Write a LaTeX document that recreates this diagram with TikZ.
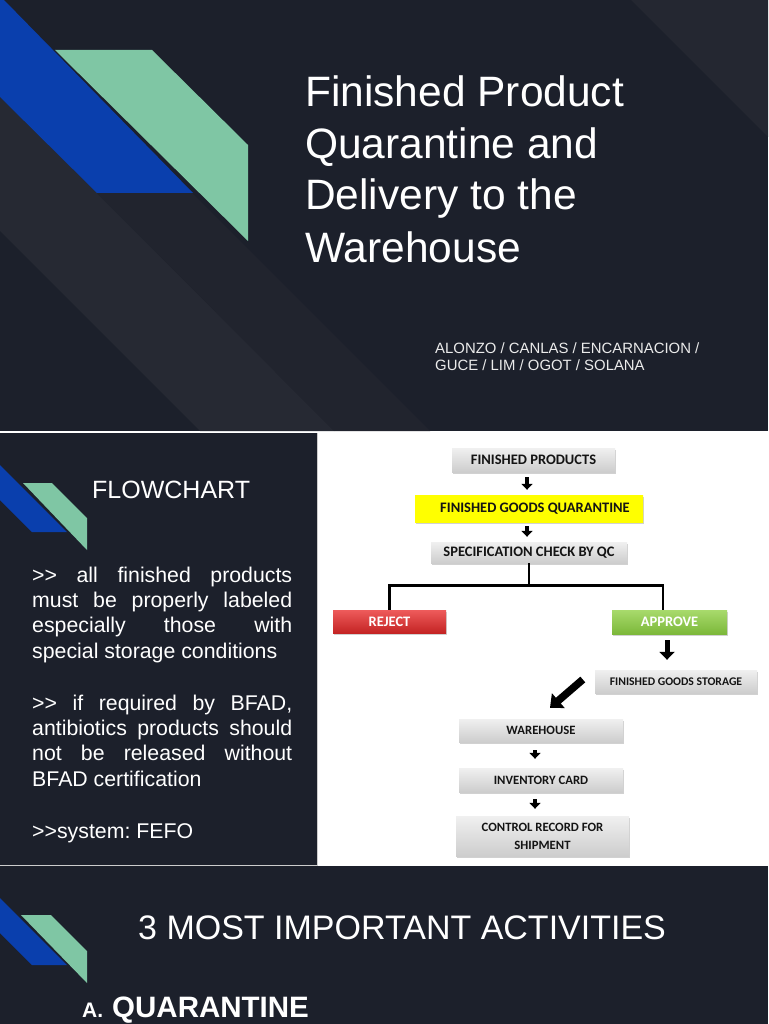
\documentclass[tikz,border=0pt]{standalone}
\usepackage{fontspec}
\setmainfont{Liberation Sans}
\newfontfamily\fcfont{Carlito}
\usetikzlibrary{arrows.meta,shadows}
\definecolor{bg}{HTML}{1C202B}
\definecolor{bandA}{HTML}{262933}
\definecolor{bandB}{HTML}{21242E}
\definecolor{bandC}{HTML}{242731}
\definecolor{decoblue}{HTML}{0A3FAD}
\definecolor{decogreen}{HTML}{7FC6A4}
\definecolor{boxtop}{HTML}{F0F0F0}
\definecolor{boxbot}{HTML}{CDCDCD}
\definecolor{redtop}{HTML}{EE5B5B}
\definecolor{redbot}{HTML}{C42424}
\definecolor{grntop}{HTML}{A8DA6C}
\definecolor{grnbot}{HTML}{7CB83A}
\definecolor{boxtext}{HTML}{141414}
\tikzset{
  txt/.style={inner sep=0pt, text=white},
  fbox/.style={rectangle, inner sep=0pt, top color=boxtop, bottom color=boxbot,
    drop shadow={shadow xshift=0.8pt, shadow yshift=-1.8pt, fill=black, opacity=0.18},
    text=boxtext, font=\fcfont\bfseries\fontsize{14.5}{17}\selectfont},
  ybox/.style={fbox, top color=yellow, bottom color=yellow},
  rbox/.style={fbox, top color=redtop, bottom color=redbot, text=white},
  gbox/.style={fbox, top color=grntop, bottom color=grnbot, text=white},
  sarrow/.style={line width=4.5pt, -{Triangle[width=11pt,length=6pt]}},
  barrow/.style={line width=5pt, -{Triangle[width=15pt,length=8pt]}},
  darrow/.style={line width=7.5pt, -{Triangle[width=19pt,length=11pt]}},
  treeline/.style={line width=2.7pt},
}
\begin{document}
\begin{tikzpicture}[x=1pt,y=-1pt]
\useasboundingbox (0,0) rectangle (768,1024);
\fill[white] (0,0) rectangle (768,1024);
% ---------- slide 1 ----------
\fill[bg] (0,0) rectangle (768,431);
\begin{scope}
\clip (0,0) rectangle (768,431);
\fill[bandA] (0,97) -- (97,193) -- (334,431) -- (200,431) -- (0,231) -- cycle;
\fill[bandB] (97,193) -- (192,193) -- (430,431) -- (334,431) -- cycle;
\fill[bandC] (631,0) -- (768,0) -- (768,137) -- cycle;
\fill[decoblue] (0,0) -- (4,0) -- (193,193) -- (97,193) -- (0,97) -- cycle;
\fill[decogreen] (55,50) -- (152,50) -- (248,145) -- (248,241) -- cycle;
\end{scope}
\node[txt, anchor=base west, font=\fontsize{42.5}{52}\selectfont] (t1) at (305,107) {Finished Product};
\node[txt, anchor=base west, font=\fontsize{42.5}{52}\selectfont] (t2) at (305,159) {Quarantine and};
\node[txt, anchor=base west, font=\fontsize{42.5}{52}\selectfont] (t3) at (305,210) {Delivery to the};
\node[txt, anchor=base west, font=\fontsize{42.5}{52}\selectfont] (t4) at (305,262) {Warehouse};
\node[txt, anchor=base west, font=\fontsize{14.9}{17}\selectfont, text=white!92!black] (au1) at (435,353) {ALONZO / CANLAS / ENCARNACION /};
\node[txt, anchor=base west, font=\fontsize{14.9}{17}\selectfont, text=white!92!black] (au2) at (435,370) {GUCE / LIM / OGOT / SOLANA};
% ---------- slide 2 ----------
\fill[bg] (0,433) rectangle (317,865);
\draw[black!20, line width=1pt] (317.5,433) -- (317.5,865.5) -- (0,865.5);
\fill[decoblue] (0,465) -- (67,532) -- (32,532) -- (0,500) -- cycle;
\fill[decogreen] (23,483) -- (52,483) -- (87,518) -- (87,550) -- cycle;
\node[txt, anchor=base west, font=\fontsize{25}{30}\selectfont] (fc) at (92,498) {FLOWCHART};
\node[txt, anchor=base west] (p1) at (32,582) {\parbox[t]{260pt}{\frenchspacing\fontsize{21.3}{25.4}\selectfont
  >\kern0pt> all finished products\linebreak must be properly labeled\linebreak especially those with\linebreak special storage conditions}};
\node[txt, anchor=base west] (p2) at (32,710) {\parbox[t]{260pt}{\frenchspacing\fontsize{21.3}{25.4}\selectfont
  >\kern0pt> if required by BFAD,\linebreak antibiotics products should\linebreak not be released without\linebreak BFAD certification}};
\node[txt, anchor=base west, font=\frenchspacing\fontsize{21.3}{25.4}\selectfont] (p3) at (32,838) {>\kern0pt>system: FEFO};
% flowchart
\node[fbox, minimum width=163pt, minimum height=24pt] (fp) at (533.5,460) {FINISHED PRODUCTS};
\node[ybox, minimum width=228pt, minimum height=27pt] (fgq) at (529,508.5) {\hspace*{12pt}FINISHED GOODS QUARANTINE};
\node[fbox, minimum width=196pt, minimum height=21pt] (spec) at (529,552.5) {SPECIFICATION CHECK BY QC};
\node[rbox, minimum width=113pt, minimum height=23pt] (rej) at (389.5,621.5) {REJECT};
\node[gbox, minimum width=115pt, minimum height=24pt] (app) at (669.5,622) {APPROVE};
\node[fbox, minimum width=162pt, minimum height=23pt, font=\fcfont\bfseries\fontsize{11.7}{14}\selectfont] (stor) at (676,681.5) {FINISHED GOODS STORAGE};
\node[fbox, minimum width=164pt, minimum height=23pt, font=\fcfont\bfseries\fontsize{12.7}{15}\selectfont] (wh) at (541,730.5) {WAREHOUSE};
\node[fbox, minimum width=164pt, minimum height=24pt, font=\fcfont\bfseries\fontsize{12.7}{15}\selectfont] (inv) at (541,780) {INVENTORY CARD};
\node[fbox, minimum width=173pt, minimum height=40pt, align=center, font=\fcfont\bfseries\fontsize{12.7}{18}\selectfont] (ctl) at (542.5,836) {CONTROL RECORD FOR\\SHIPMENT};
\draw[sarrow, shorten <=5pt, shorten >=5pt] ([xshift=-6.5pt]fp.south) -- ([xshift=-2pt]fgq.north);
\draw[sarrow, shorten <=4pt, shorten >=5pt] ([xshift=-2pt]fgq.south) -- ([xshift=-2pt]spec.north);
\draw[treeline] (spec.south) -- ++(0,22) -| (rej.north);
\draw[treeline] (spec.south) ++(0,22) -| ([xshift=-6.5pt]app.north);
\draw[barrow, shorten <=6pt, shorten >=10pt] ([xshift=-2.5pt]app.south) -- ([xshift=-9pt]stor.north);
\draw[darrow] ([xshift=-12pt,yshift=2pt]stor.west) -- ([xshift=9pt,yshift=11pt]wh.north);
\draw[sarrow, shorten <=8pt, shorten >=9pt] ([xshift=-6pt]wh.south) -- ([xshift=-6pt]inv.north);
\draw[sarrow, shorten <=7pt, shorten >=7pt] ([xshift=-6pt]inv.south) -- ([xshift=-7.5pt]ctl.north);
% ---------- slide 3 ----------
\fill[bg] (0,866) rectangle (768,1024);
\fill[decoblue] (0,898) -- (67,965) -- (32,965) -- (0,933) -- cycle;
\fill[decogreen] (21,915) -- (51,915) -- (87,951) -- (87,983) -- cycle;
\node[txt, anchor=base west, font=\fontsize{34}{40}\selectfont] (s3t) at (138,939) {3 MOST IMPORTANT ACTIVITIES};
\node[txt, anchor=base west, font=\bfseries\fontsize{21}{24}\selectfont] (s3a) at (82,1017) {A.};
\node[txt, anchor=base west, font=\bfseries\fontsize{29.5}{32}\selectfont] (s3q) at (112,1017) {QUARANTINE};
\end{tikzpicture}
\end{document}
